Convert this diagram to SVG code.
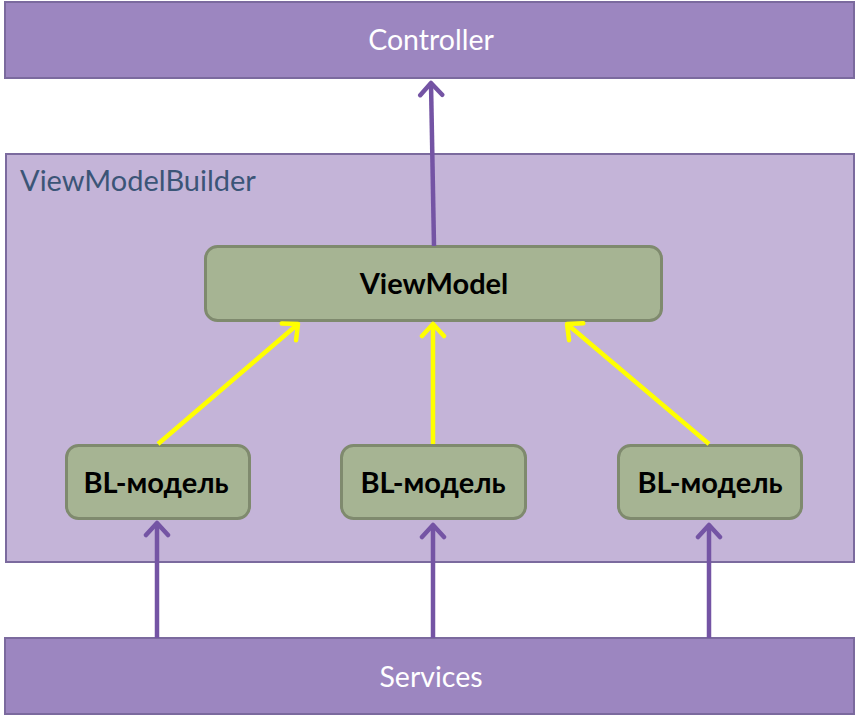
<svg xmlns="http://www.w3.org/2000/svg" width="857" height="718" viewBox="0 0 857 718">
<style>
.band{fill:#9C86C0;stroke:#7B6A9E;stroke-width:2}
.cont{fill:#C4B4D8;stroke:#7B6A9E;stroke-width:2}
.box{fill:#A6B493;stroke:#7F8A6E;stroke-width:3}
.wt{font-family:Lato,"Liberation Sans",sans-serif;font-size:28.5px;fill:#FFFFFF;text-anchor:middle}
.bt{font-family:Lato,"Liberation Sans",sans-serif;font-size:29px;font-weight:bold;fill:#000000;text-anchor:middle}
.tt{font-family:Lato,"Liberation Sans",sans-serif;font-size:29px;fill:#3B5577}
.pa{stroke:#7454A4;stroke-width:4.5;fill:none}
.ya{stroke:#FFFF00;stroke-width:4.5;fill:none}
</style>
<defs>
<marker id="mp" markerUnits="userSpaceOnUse" viewBox="-16 -14 20 28" markerWidth="20" markerHeight="28" refX="0" refY="0" orient="auto">
<polyline points="-12,-11 0,0 -12,11" fill="none" stroke="#7454A4" stroke-width="4.5" stroke-linecap="round" stroke-linejoin="round"/>
</marker>
<marker id="my" markerUnits="userSpaceOnUse" viewBox="-16 -14 20 28" markerWidth="20" markerHeight="28" refX="0" refY="0" orient="auto">
<polyline points="-12,-11 0,0 -12,11" fill="none" stroke="#FFFF00" stroke-width="4.5" stroke-linecap="round" stroke-linejoin="round"/>
</marker>
</defs>
<g id="controller">
<rect class="band" x="5" y="2" width="849" height="76"/>
<text class="wt" x="431" y="50">Controller</text>
</g>
<g id="viewmodelbuilder">
<rect class="cont" x="6" y="154" width="848" height="408"/>
<text class="tt" x="20" y="191">ViewModelBuilder</text>
</g>
<g id="services">
<rect class="band" x="5" y="638" width="849" height="76"/>
<text class="wt" x="431" y="687">Services</text>
</g>
<g id="viewmodel">
<rect class="box" x="205.5" y="246.5" width="456" height="74" rx="12"/>
<text class="bt" x="434" y="294">ViewModel</text>
</g>
<g id="bl1">
<rect class="box" x="66.5" y="445.5" width="183" height="73" rx="12"/>
<text class="bt" x="156" y="493">BL-модель</text>
</g>
<g id="bl2">
<rect class="box" x="341.5" y="445.5" width="184" height="73" rx="12"/>
<text class="bt" x="433" y="493">BL-модель</text>
</g>
<g id="bl3">
<rect class="box" x="618.5" y="445.5" width="183" height="73" rx="12"/>
<text class="bt" x="710" y="493">BL-модель</text>
</g>
<g id="connectors">
<line class="pa" x1="434" y1="246" x2="431" y2="83" marker-end="url(#mp)"/>
<line class="pa" x1="157" y1="638" x2="157" y2="523" marker-end="url(#mp)"/>
<line class="pa" x1="433" y1="638" x2="433" y2="525" marker-end="url(#mp)"/>
<line class="pa" x1="709" y1="638" x2="709" y2="525" marker-end="url(#mp)"/>
<line class="ya" x1="158" y1="444" x2="298" y2="324" marker-end="url(#my)"/>
<line class="ya" x1="433" y1="444" x2="433" y2="324" marker-end="url(#my)"/>
<line class="ya" x1="709" y1="444" x2="567" y2="324" marker-end="url(#my)"/>
</g>
</svg>
